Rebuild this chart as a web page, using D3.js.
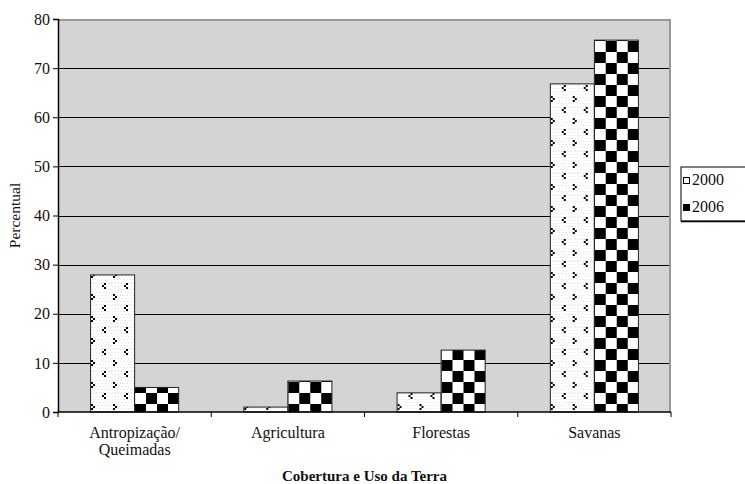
<!DOCTYPE html>
<html>
<head>
<meta charset="utf-8">
<script src="https://cdn.jsdelivr.net/npm/d3@7"></script>
<style>
  body { margin: 0; background: #fff; }
</style>
</head>
<body>
<svg width="745" height="484"></svg>
<script>
// data
const categories = ['Antropização/\nQueimadas', 'Agricultura', 'Florestas', 'Savanas']
const years = ['2000', '2006']
const values2000 = [27.9, 1.0, 3.9, 66.8]
const values2006 = [5.0, 6.3, 12.6, 75.7]
const yTicks = [0, 10, 20, 30, 40, 50, 60, 70, 80]

const FONT = '"Liberation Serif", "Times New Roman", serif'

const svg = d3.select('svg')
const margin = {top: 19, right: 74, bottom: 72, left: 58}
const graphWidth = 745 - margin.left - margin.right
const graphHeight = 484 - margin.top - margin.bottom

// patterns
const defs = svg.append('defs')
const p1 = defs.append('pattern')
  .attr('id', 'dots').attr('patternUnits', 'userSpaceOnUse')
  .attr('width', 22).attr('height', 22)
p1.append('rect').attr('width', 22).attr('height', 22).attr('fill', '#fff')
// faint grey speckle
for (let i = 0; i < 22; i += 3) {
  for (let j = (i % 6 ? 1 : 0); j < 22; j += 3) {
    p1.append('rect').attr('x', j).attr('y', i).attr('width', 1).attr('height', 1).attr('fill', '#e2e2e2')
  }
}
// small "<" and ">" marks
const marks = [
  [[2,0],[0,2],[2,4]],
  [[11,11],[13,13],[11,15]]
]
marks.forEach(m => m.forEach(([x, y]) => {
  p1.append('rect').attr('x', x).attr('y', y).attr('width', 2).attr('height', 2).attr('fill', '#000')
}))

const p2 = defs.append('pattern')
  .attr('id', 'checks').attr('patternUnits', 'userSpaceOnUse')
  .attr('width', 22).attr('height', 22)
p2.append('rect').attr('width', 22).attr('height', 22).attr('fill', '#fff')
p2.append('rect').attr('x', 0).attr('y', 0).attr('width', 11).attr('height', 11).attr('fill', '#000')
p2.append('rect').attr('x', 11).attr('y', 11).attr('width', 11).attr('height', 11).attr('fill', '#000')

const fills = ['url(#dots)', 'url(#checks)']

const graph = svg.append('g')
  .attr('transform', `translate(${margin.left},${margin.top})`)

// scales
const y = d3.scaleLinear().domain([0, 80]).range([graphHeight, 0])
const x = d3.scaleBand().domain(categories).range([0, graphWidth])
const x1 = d3.scaleBand().domain(years).range([0, x.bandwidth()]).paddingOuter(0.74).paddingInner(0)

// plot background
graph.append('rect')
  .attr('width', graphWidth).attr('height', graphHeight)
  .attr('fill', '#d4d4d4')

// gridlines
graph.selectAll('.grid')
  .data(yTicks.filter(d => d > 0 && d < 80))
  .enter().append('line')
  .attr('x1', 0).attr('x2', graphWidth)
  .attr('y1', d => Math.round(y(d)) + 0.5).attr('y2', d => Math.round(y(d)) + 0.5)
  .attr('stroke', '#000').attr('stroke-width', 1)

// gray border top / right
graph.append('path')
  .attr('d', `M0,1 H${graphWidth - 1} V${graphHeight}`)
  .attr('fill', 'none').attr('stroke', '#999').attr('stroke-width', 2)

// bars
const rows = categories.map((c, i) => ({cat: c, vals: [values2000[i], values2006[i]]}))
const groups = graph.selectAll('.grp')
  .data(rows)
  .enter().append('g')
  .attr('transform', d => `translate(${x(d.cat)},0)`)

groups.selectAll('rect')
  .data(d => d.vals.map((v, k) => ({year: years[k], v, k})))
  .enter().append('rect')
  .attr('x', d => x1(d.year))
  .attr('y', d => y(d.v))
  .attr('width', x1.bandwidth())
  .attr('height', d => graphHeight - y(d.v))
  .attr('fill', d => fills[d.k])
  .attr('stroke', '#222').attr('stroke-width', 1)

// axes
const yAxis = d3.axisLeft(y).tickValues(yTicks).tickSize(5).tickPadding(3)
const yg = graph.append('g').call(yAxis)
yg.select('.domain').attr('stroke', '#000').attr('stroke-width', 1.5)
yg.selectAll('text').style('font-family', FONT).attr('font-size', 16).attr('fill', '#111')

const xg = graph.append('g').attr('transform', `translate(0,${graphHeight})`)
xg.append('line').attr('x1', 0).attr('x2', graphWidth).attr('stroke', '#000').attr('stroke-width', 1.5)
xg.selectAll('.tk')
  .data(d3.range(categories.length + 1))
  .enter().append('line')
  .attr('x1', i => i * x.step()).attr('x2', i => i * x.step())
  .attr('y1', 0).attr('y2', 5)
  .attr('stroke', '#000')

xg.selectAll('.lbl')
  .data(categories)
  .enter().append('text')
  .attr('x', d => x(d) + x.bandwidth() / 2)
  .attr('y', 26)
  .attr('text-anchor', 'middle')
  .style('font-family', FONT)
  .attr('font-size', 16)
  .attr('fill', '#111')
  .each(function(d) {
    d.split('\n').forEach((t, i) => {
      d3.select(this).append('tspan')
        .attr('x', x(d) + x.bandwidth() / 2)
        .attr('dy', i === 0 ? 0 : 17)
        .text(t)
    })
  })

// axis titles
svg.append('text')
  .attr('x', margin.left + graphWidth / 2)
  .attr('y', 481)
  .attr('text-anchor', 'middle')
  .style('font-family', FONT)
  .attr('font-size', 15)
  .attr('font-weight', 'bold')
  .attr('fill', '#111')
  .text('Cobertura e Uso da Terra')

svg.append('text')
  .attr('transform', `translate(20,${margin.top + graphHeight / 2}) rotate(-90)`)
  .attr('text-anchor', 'middle')
  .style('font-family', FONT)
  .attr('font-size', 15.5)
  .attr('fill', '#111')
  .text('Percentual')

// legend
const legend = svg.append('g').attr('transform', 'translate(681,167)')
legend.append('rect')
  .attr('width', 66).attr('height', 54)
  .attr('fill', '#fff').attr('stroke', '#000').attr('stroke-width', 1)
legend.append('line').attr('x1', 0).attr('x2', 66).attr('y1', 54.5).attr('y2', 54.5)
  .attr('stroke', '#000').attr('stroke-width', 1.5)
years.forEach((yr, i) => {
  legend.append('rect')
    .attr('x', 2.5).attr('y', 10.5 + i * 27).attr('width', 6).attr('height', 6)
    .attr('fill', i === 0 ? '#fff' : '#000').attr('stroke', '#000')
  legend.append('text')
    .attr('x', 11).attr('y', 18 + i * 27)
    .style('font-family', FONT)
    .attr('font-size', 16)
    .attr('fill', '#111')
    .text(yr)
})
</script>
</body>
</html>
